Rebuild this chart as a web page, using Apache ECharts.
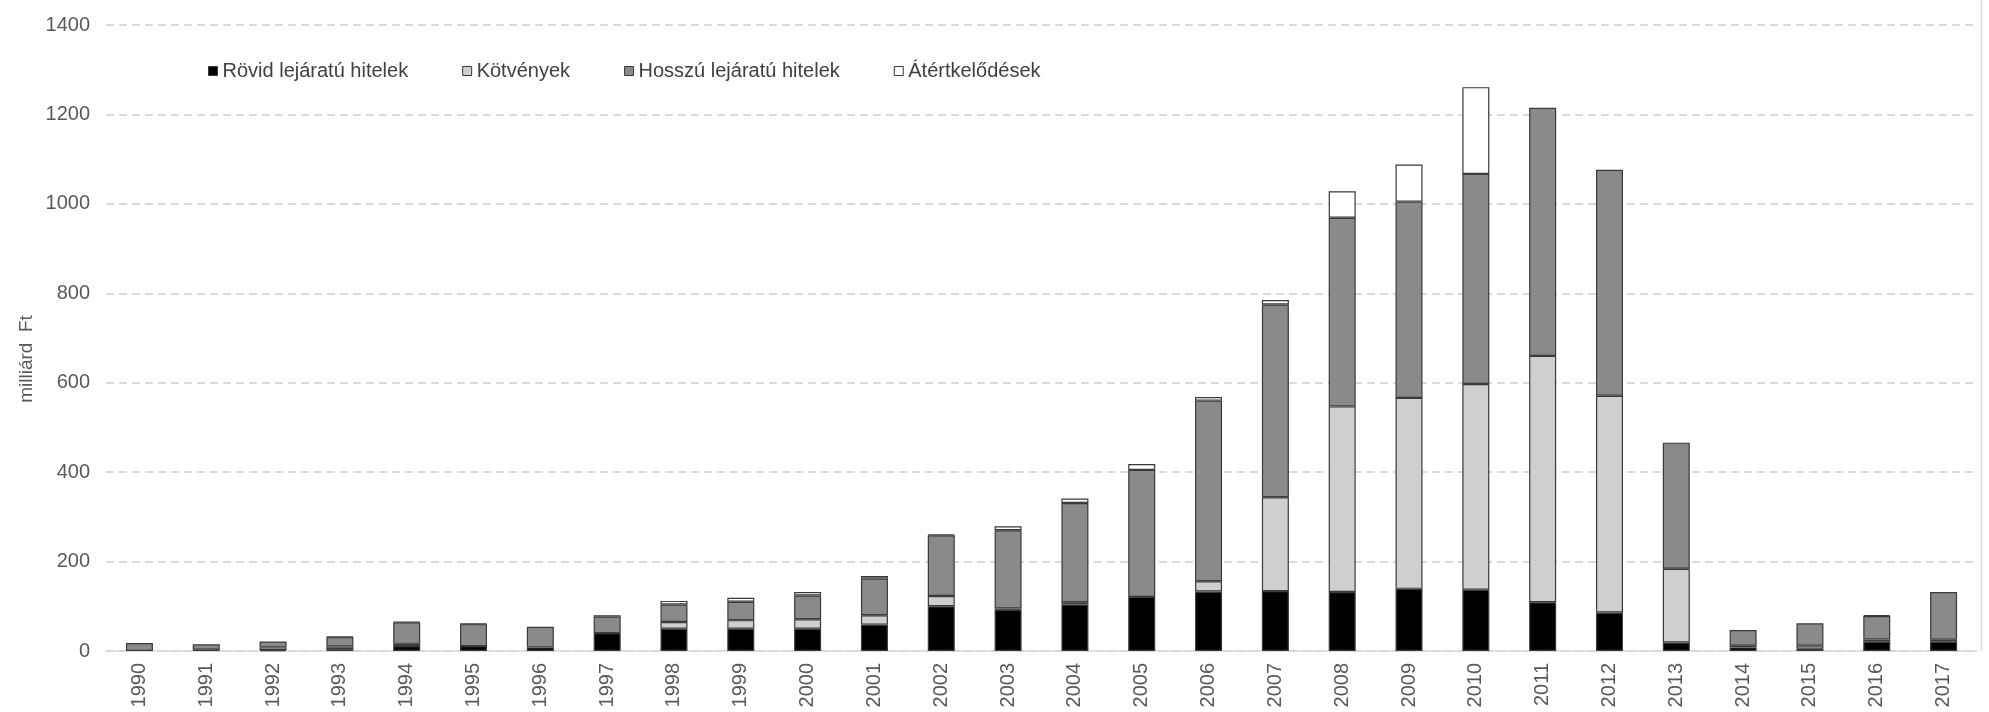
<!DOCTYPE html>
<html>
<head>
<meta charset="utf-8">
<script src="https://cdn.jsdelivr.net/npm/echarts@6/dist/echarts.min.js"></script>
<style>
  html, body { margin: 0; padding: 0; background: #ffffff; }
  #chart { width: 1989px; height: 712px; }
</style>
</head>
<body>
<div id="chart"></div>
<script>
// Years on the category axis
const years = ['1990','1991','1992','1993','1994','1995','1996','1997','1998','1999',
  '2000','2001','2002','2003','2004','2005','2006','2007','2008','2009',
  '2010','2011','2012','2013','2014','2015','2016','2017'];

// Stacked components, billion HUF
const shortLoans = [0, 3, 2, 4, 11, 11, 8, 40, 50, 50,
  50, 59, 100, 92, 104, 121, 133, 134, 132, 139,
  137, 109, 86, 19, 8, 5, 21, 21];
const bonds = [0, 0, 6, 6, 5, 0, 0, 0, 15, 19,
  21, 21, 23, 3, 5, 0, 23, 210, 415, 427,
  460, 551, 485, 165, 4, 7, 5, 4];
const longLoans = [18, 12, 13, 21, 48, 49, 46, 37, 39, 41,
  53, 82, 136, 175, 222, 284, 404, 431, 422, 439,
  470, 555, 505, 282, 35, 50, 52, 107];
const revaluation = [0, 0, 0, 1, 1, 1, 0, 3, 8, 9,
  8, 6, 2, 9, 10, 13, 8, 10, 59, 83,
  194, 0, 0, 0, 0, 0, 2, 0];

const seriesNames = ['Rövid lejáratú hitelek', 'Kötvények', 'Hosszú lejáratú hitelek', 'Átértkelődések'];
const yTicks = { min: 0, max: 1400, interval: 200 };
const axisTitle = 'milliárd  Ft';

const fills = ['#000000', '#d0cfd0', '#8a8a8a', '#ffffff'];
const font = '"Liberation Sans", Arial, sans-serif';

const chart = echarts.init(document.getElementById('chart'), null, { renderer: 'canvas' });

function stackSeries(name, values, color) {
  return {
    name: name,
    type: 'bar',
    stack: 'total',
    barWidth: 27,
    itemStyle: { color: color, borderColor: '#3a3a3a', borderWidth: 1.2 },
    emphasis: { disabled: true },
    data: values.map(v => (v === 0 ? '-' : v))
  };
}

chart.setOption({
  animation: false,
  backgroundColor: '#ffffff',
  textStyle: { fontFamily: font },
  grid: { left: 106, right: 12, top: 25, bottom: 61, containLabel: false },
  legend: {
    left: 203,
    top: 56,
    itemWidth: 9,
    itemHeight: 9,
    itemGap: 54,
    icon: 'rect',
    textStyle: { fontSize: 20, color: '#404040', fontFamily: font },
    itemStyle: { borderColor: '#3a3a3a', borderWidth: 1 },
    data: seriesNames
  },
  xAxis: {
    type: 'category',
    data: years,
    axisLine: { show: true, lineStyle: { color: '#d9d9d9', width: 1.5 } },
    axisTick: { show: false },
    axisLabel: { rotate: 90, fontSize: 20, color: '#595959', margin: 12, fontFamily: font, interval: 0 }
  },
  yAxis: {
    type: 'value',
    min: yTicks.min,
    max: yTicks.max,
    interval: yTicks.interval,
    axisLine: { show: false },
    axisTick: { show: false },
    axisLabel: { fontSize: 20, color: '#595959', margin: 16, fontFamily: font, formatter: v => String(v) },
    splitLine: { show: true, lineStyle: { color: '#d0d0d0', width: 1.5, type: [8, 5] } }
  },
  graphic: [
    {
      type: 'text',
      x: 27,
      y: 359,
      rotation: Math.PI / 2,
      style: {
        text: axisTitle,
        fontSize: 19,
        fontFamily: font,
        fill: '#595959',
        align: 'center',
        verticalAlign: 'middle'
      }
    },
    {
      type: 'line',
      shape: { x1: 1981.5, y1: 0, x2: 1981.5, y2: 651 },
      style: { stroke: '#d9d9d9', lineWidth: 1.5 }
    }
  ],
  series: [
    stackSeries(seriesNames[0], shortLoans, fills[0]),
    stackSeries(seriesNames[1], bonds, fills[1]),
    stackSeries(seriesNames[2], longLoans, fills[2]),
    stackSeries(seriesNames[3], revaluation, fills[3])
  ]
});
</script>
</body>
</html>
